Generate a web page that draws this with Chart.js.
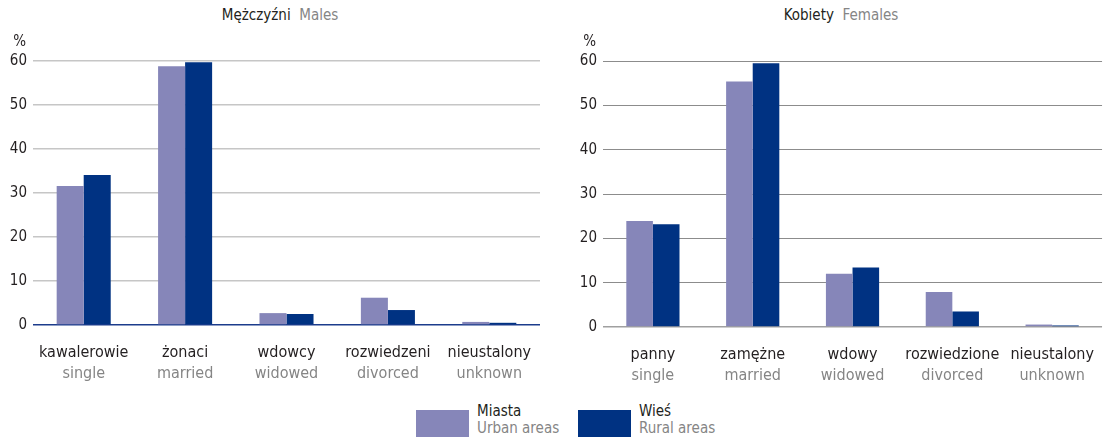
<!DOCTYPE html>
<html>
<head>
<meta charset="utf-8">
<script src="https://cdn.jsdelivr.net/npm/chart.js@4/dist/chart.umd.min.js"></script>
<style>
  body { margin: 0; background: #fff; font-family: 'DejaVu Sans Condensed', 'Liberation Sans Narrow', sans-serif; }
  #wrap { position: relative; width: 1114px; height: 442px; overflow: hidden; }
  canvas { position: absolute; top: 0; }
  .title { position: absolute; top: 6px; font-size: 15px; white-space: nowrap; transform: translateX(-50%); }
  .pl { color: #231f20; }
  .en { color: #858585; }
  .leg { position: absolute; top: 402px; }
  .sw { position: absolute; top: 8px; left: 0; width: 53px; height: 27px; }
  .lt { position: absolute; left: 61px; top: 1px; font-size: 15px; line-height: 17px; white-space: nowrap; }
</style>
</head>
<body>
<div id="wrap">
  <div class="title" style="left:280px"><span class="pl">Mężczyźni</span>&nbsp; <span class="en">Males</span></div>
  <div class="title" style="left:841px"><span class="pl">Kobiety</span>&nbsp; <span class="en">Females</span></div>
  <canvas id="menChart" width="556" height="392" style="left:0"></canvas>
  <canvas id="womenChart" width="544" height="392" style="left:570px"></canvas>
  <div class="leg" style="left:416px">
    <div class="sw" style="background:#8686b9"></div>
    <div class="lt"><span class="pl">Miasta</span><br><span class="en">Urban areas</span></div>
  </div>
  <div class="leg" style="left:578px">
    <div class="sw" style="background:#003282"></div>
    <div class="lt"><span class="pl">Wieś</span><br><span class="en">Rural areas</span></div>
  </div>
</div>
<script>
// categories
var menLabels = ["kawalerowie", "żonaci", "wdowcy", "rozwiedzeni", "nieustalony"];
var womenLabels = ["panny", "zamężne", "wdowy", "rozwiedzione", "nieustalony"];
var englishLabels = ["single", "married", "widowed", "divorced", "unknown"];

// values in %
var menUrban = [31.6, 58.8, 2.7, 6.2, 0.7];
var menRural = [34.1, 59.7, 2.5, 3.4, 0.5];
var womenUrban = [23.9, 55.4, 12.0, 7.9, 0.55];
var womenRural = [23.2, 59.5, 13.4, 3.5, 0.35];

var yTicks = [0, 10, 20, 30, 40, 50, 60];

var urbanColor = '#8686b9';
var ruralColor = '#003282';

var fontFamily = "'DejaVu Sans Condensed', 'Liberation Sans Narrow', sans-serif";
Chart.defaults.font.family = fontFamily;

// draws the "%" unit above the y axis
var percentSign = {
  id: 'percentSign',
  afterDraw: function(chart) {
    var y = chart.scales.y;
    var ctx = chart.ctx;
    ctx.save();
    ctx.font = "15px " + fontFamily;
    ctx.fillStyle = '#231f20';
    ctx.textAlign = 'right';
    ctx.textBaseline = 'alphabetic';
    ctx.fillText('%', y.right - 7, 46);
    ctx.restore();
  }
};

function makeChart(id, labels, urban, rural, opts) {
  return new Chart(document.getElementById(id), {
    type: 'bar',
    data: {
      labels: labels,
      datasets: [{
        label: 'Miasta',
        data: urban,
        backgroundColor: urbanColor,
        categoryPercentage: 0.533,
        barPercentage: 1
      }, {
        label: 'Wieś',
        data: rural,
        backgroundColor: ruralColor,
        categoryPercentage: 0.533,
        barPercentage: 1
      }]
    },
    options: {
      responsive: false,
      animation: false,
      devicePixelRatio: 1,
      layout: { padding: { top: 61, right: opts.padRight, bottom: opts.padBottom, left: 0 } },
      plugins: { legend: { display: false }, tooltip: { enabled: false } },
      scales: {
        x: {
          weight: 0,
          grid: { display: false, drawTicks: false },
          border: { display: false },
          ticks: { color: '#231f20', font: { size: 16, lineHeight: 1 }, padding: 20, maxRotation: 0, autoSkip: false },
          afterFit: function(s) { s.height = 39; }
        },
        x2: {
          type: 'category',
          labels: englishLabels,
          position: 'bottom',
          weight: 1,
          offset: true,
          grid: { display: false, drawTicks: false },
          border: { display: false },
          ticks: { color: '#858585', font: { size: 16, lineHeight: 1 }, padding: 2, maxRotation: 0, autoSkip: false },
          afterFit: function(s) { s.height = 23; }
        },
        y: {
          min: 0,
          max: 60,
          afterBuildTicks: function(s) { s.ticks = yTicks.map(function(v) { return { value: v }; }); },
          border: { display: false },
          grid: {
            drawTicks: false,
            color: function(c) { return c.tick.value === 0 ? opts.zeroColor : opts.gridColor; },
            lineWidth: function(c) { return c.tick.value === 0 ? 1.5 : opts.gridWidth; }
          },
          ticks: { color: '#231f20', font: { size: 15 }, padding: 6 },
          afterFit: function(s) { s.width = 33; }
        }
      }
    },
    plugins: [percentSign]
  });
}

makeChart('menChart', menLabels, menUrban, menRural,
  { padRight: 16, padBottom: 5, zeroColor: '#1c3c8c', gridColor: '#c6c6c6', gridWidth: 1.5 });
makeChart('womenChart', womenLabels, womenUrban, womenRural,
  { padRight: 1, padBottom: 3, zeroColor: '#a0a0a0', gridColor: '#8c8c8c', gridWidth: 1 });
</script>
</body>
</html>
